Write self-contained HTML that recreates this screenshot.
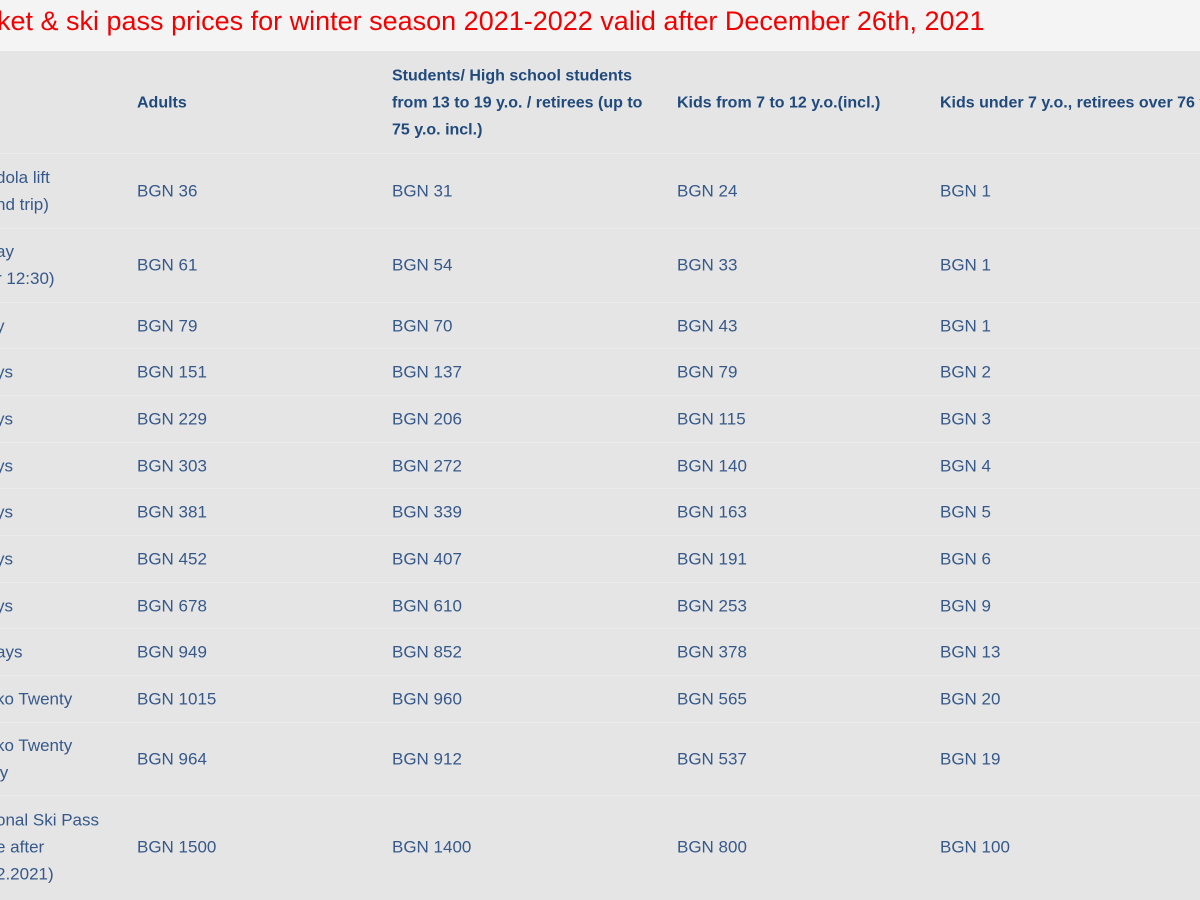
<!DOCTYPE html>
<html><head><meta charset="utf-8"><style>
body{margin:0;width:1200px;height:900px;overflow:hidden;background:#e5e5e5;font-family:"Liberation Sans",sans-serif;position:relative}
#title-bar{position:absolute;left:0;top:0;width:1200px;height:51px;background:#f4f4f4}
#title{position:absolute;left:-3px;top:6px;font-size:27px;color:#f20000;white-space:nowrap}
.c{position:absolute;white-space:nowrap;font-size:17px;line-height:27px;color:#36598a;transform:translateY(-50%)}
.h{font-weight:bold;font-size:16px;color:#214a7c}
.lab{left:-4px !important}
.sep{position:absolute;left:0;width:1200px;height:1px;background:#ececec}
</style></head><body>
<div id="title-bar"><div id="title">ket &amp; ski pass prices for winter season 2021-2022 valid after December 26th, 2021</div></div>
<div id="tbl"></div>
<script>
const colX=[0,137,392,677,940];
const headers=["","Adults","Students/ High school students<br>from 13 to 19 y.o. / retirees (up to<br>75 y.o. incl.)","Kids from 7 to 12 y.o.(incl.)","Kids under 7 y.o., retirees over 76 y.o."];
const labels=["dola lift<br>nd trip)","ay<br>r 12:30)","y","ys","ys","ys","ys","ys","ys","ays","ko Twenty","ko Twenty<br>ly","onal Ski Pass<br>e after<br>2.2021)"];
const adults=[36,61,79,151,229,303,381,452,678,949,1015,964,1500];
const students=[31,54,70,137,206,272,339,407,610,852,960,912,1400];
const kids=[24,33,43,79,115,140,163,191,253,378,565,537,800];
const small=[1,1,1,2,3,4,5,6,9,13,20,19,100];
const rowCenters=[191,265,326,372,419,466,512,559,606,652,699,759,847];
const seps=[153,228,302,348,395,442,488,535,582,628,675,722,795];
const tbl=document.getElementById('tbl');
function cell(x,y,html,cls,name){const d=document.createElement('div');d.className='c '+cls;d.style.left=x+'px';d.style.top=y+'px';d.innerHTML=html;


tbl.appendChild(d);}
headers.forEach((h,i)=>{if(h)cell(colX[i],103,h,'h','header-col-'+i);});
seps.forEach((y,i)=>{const s=document.createElement('div');s.className='sep';s.style.top=y+'px';


tbl.appendChild(s);});
labels.forEach((l,i)=>{const y=rowCenters[i];
cell(colX[0],y,l,'lab','row-label-'+i);
cell(colX[1],y,'BGN '+adults[i],'','adults-price-'+i);
cell(colX[2],y,'BGN '+students[i],'','students-price-'+i);
cell(colX[3],y,'BGN '+kids[i],'','kids-price-'+i);
cell(colX[4],y,'BGN '+small[i],'','small-kids-price-'+i);});
</script>
</body></html>
